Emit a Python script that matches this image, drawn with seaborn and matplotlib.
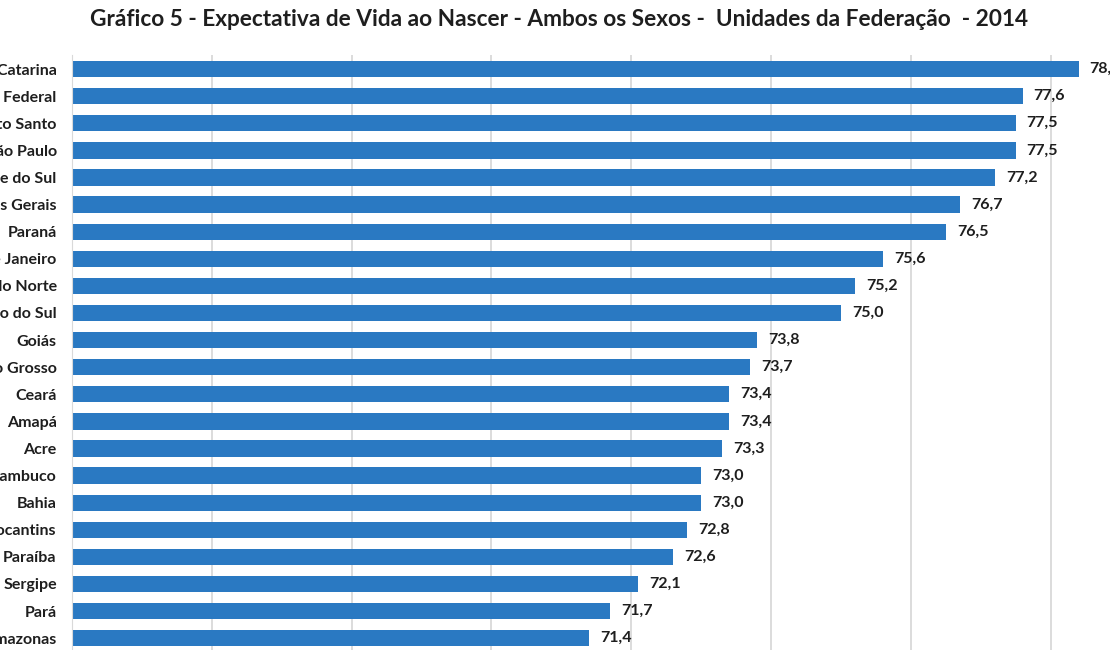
import matplotlib
matplotlib.use("Agg")
import matplotlib.pyplot as plt
import seaborn as sns
import pandas as pd

# Expectativa de vida ao nascer - 2014 (parte visível do gráfico)
estados = [
    'Santa Catarina', 'Distrito Federal', 'Espírito Santo', 'São Paulo',
    'Rio Grande do Sul', 'Minas Gerais', 'Paraná', 'Rio de Janeiro',
    'Rio Grande do Norte', 'Mato Grosso do Sul', 'Goiás', 'Mato Grosso',
    'Ceará', 'Amapá', 'Acre', 'Pernambuco', 'Bahia', 'Tocantins',
    'Paraíba', 'Sergipe', 'Pará', 'Amazonas'
]
expectativa = [
    78.4, 77.6, 77.5, 77.5, 77.2, 76.7, 76.5, 75.6, 75.2, 75.0, 73.8,
    73.7, 73.4, 73.4, 73.3, 73.0, 73.0, 72.8, 72.6, 72.1, 71.7, 71.4
]
grade_x = [64, 66, 68, 70, 72, 74, 76, 78]

df = pd.DataFrame({'Estado': estados, 'Expectativa': expectativa})

sns.set_style('white')
plt.rcParams['font.family'] = ['Lato', 'DejaVu Sans']

W, H = 1110, 650
fig = plt.figure(figsize=(W / 100, H / 100), dpi=100)
# eixo recortado como na imagem original
top_px, step_px = 55, 27.1
n_vis = 22.12
ax = fig.add_axes([72 / W, 1 - (top_px + n_vis * step_px) / H,
                   (W - 72) / W, n_vis * step_px / H])

sns.barplot(data=df, x='Expectativa', y='Estado', color='#2A79C2',
            saturation=1, width=0.6, linewidth=0, ax=ax)

ax.set_xlim(64, 78.85)
ax.set_ylim(21.6, -0.52)
ax.set_xticks(grade_x)
ax.xaxis.grid(True, color='#d9d9d9', linewidth=1.3)
ax.set_axisbelow(True)
for s in ['top', 'right', 'bottom']:
    ax.spines[s].set_visible(False)
ax.spines['left'].set_color('#d9d9d9')
ax.set_xlabel('')
ax.set_ylabel('')
ax.tick_params(axis='x', labelbottom=False, length=0)
ax.tick_params(axis='y', length=0, pad=11)
for t in ax.get_yticklabels():
    t.set_fontweight('bold')
    t.set_fontsize(11.5)
    t.set_color('#1e1e1e')

rotulos = [f'{v:.1f}'.replace('.', ',') for v in expectativa]
ax.bar_label(ax.containers[0], labels=rotulos, padding=8,
             fontsize=11.5, fontweight='bold', color='#1e1e1e')

fig.text(0.504, 1 - 20 / H,
         'Gráfico 5 - Expectativa de Vida ao Nascer - Ambos os Sexos -  Unidades da Federação  - 2014',
         ha='center', va='center', fontsize=16.3, fontweight='bold', color='#1e1e1e')

fig.savefig('out.png', dpi=100)
